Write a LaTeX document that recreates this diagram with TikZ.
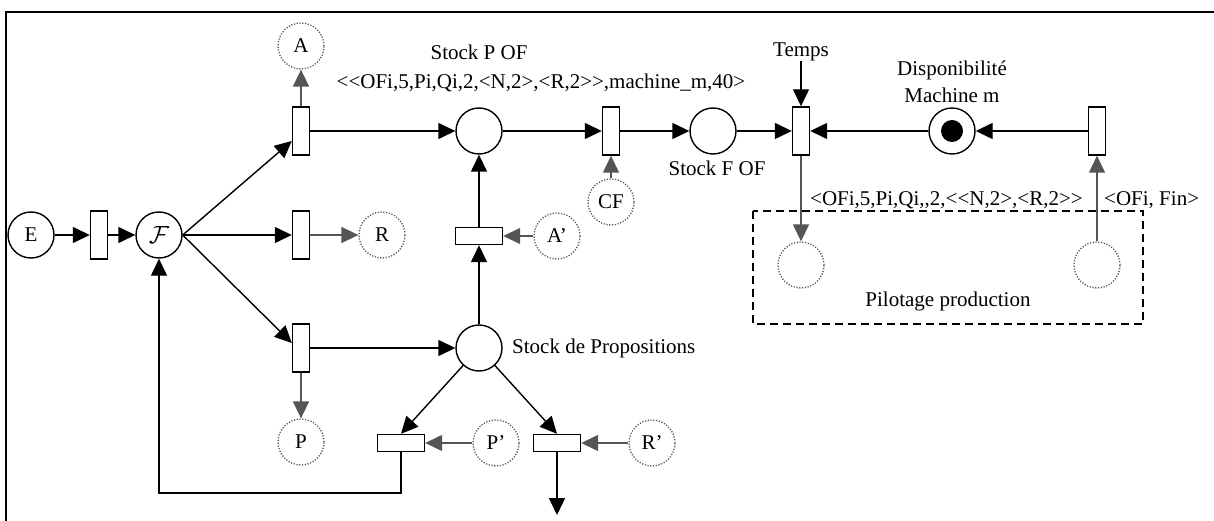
\documentclass[tikz,border=0pt]{standalone}
\usepackage{fontspec}
\setmainfont{Liberation Serif}[Ligatures=TeXOff]
\usetikzlibrary{arrows.meta}
\definecolor{gr}{HTML}{555555}
\definecolor{dotg}{HTML}{555555}
\begin{document}
\begin{tikzpicture}[x=1pt,y=-1pt, font=\fontsize{21}{24}\selectfont,
 place/.style={circle,draw,line width=1.4pt,minimum size=46pt,inner sep=0pt},
 ghost/.style={circle,draw=dotg,line width=1.3pt,dash pattern=on 1.2pt off 1.6pt,minimum size=46pt,inner sep=0pt},
 vtr/.style={rectangle,draw,line width=1.4pt,minimum width=17pt,minimum height=48pt,inner sep=0pt},
 htr/.style={rectangle,draw,line width=1.4pt,minimum width=47pt,minimum height=17pt,inner sep=0pt},
 arc/.style={line width=1.4pt,-{Triangle[length=17pt,width=16pt]}},
 garc/.style={gr,line width=1.4pt,-{Triangle[length=17pt,width=16pt]}},
 lbl/.style={inner sep=0pt}]
\useasboundingbox (0,0) rectangle (1214,521);
\draw[line width=1.4pt] (6,521) -- (6,12) -- (1214,12);
% places
\node[place] (E) at (31,235) {E};
\node[place,font=\fontsize{30}{32}\selectfont] (F) at (159,235) {$\mathcal{F}$};
\node[place] (SPOF) at (479,131) {};
\node[place] (SFOF) at (713,131) {};
\node[place] (DM) at (952,131) {};
\fill (DM) circle (11pt);
\node[place] (SDP) at (479,348) {};
% ghost places
\node[ghost] (A) at (301,46) {A};
\node[ghost] (R) at (382,235) {R};
\node[ghost] (P) at (301,442) {P};
\node[ghost] (CF) at (611,202) {CF};
\node[ghost] (Ap) at (557,236) {A’};
\node[ghost] (Pp) at (496,443) {P’};
\node[ghost] (Rp) at (652,443) {R’};
\node[ghost] (G1) at (801,265) {};
\node[ghost] (G2) at (1097,265) {};
% transitions
\node[vtr] (T1) at (99,235) {};
\node[vtr] (TA) at (301,131) {};
\node[vtr] (TR) at (301,235) {};
\node[vtr] (TP) at (301,348) {};
\node[vtr] (TCF) at (611,131) {};
\node[vtr] (TT) at (801,131) {};
\node[vtr] (TF) at (1097,131) {};
\node[htr] (TAp) at (479,236) {};
\node[htr] (TPp) at (401,443) {};
\node[htr] (TRp) at (557,443) {};
% labels
\node[lbl] at (479,52) {Stock P OF};
\node[lbl] at (541,83) {<<OFi,5,Pi,Qi,2,<N,2>,<R,2>>,machine\_m,40>};
\node[lbl] at (717,168) {Stock F OF};
\node[lbl] (temps) at (801,52) {Temps};
\node[lbl] at (952,70) {Disponibilité};
\node[lbl] at (952,95) {Machine m};
\node[lbl,anchor=west] at (512,348) {Stock de Propositions};
\node[lbl,anchor=west] at (810,200) {<OFi,5,Pi,Qi,,2,<<N,2>,<R,2>>};
\node[lbl,anchor=west] at (1104,200) {<OFi, Fin>};
\node[lbl] at (948,301) {Pilotage production};
\draw[line width=2pt,dash pattern=on 8pt off 5pt] (753,211) rectangle (1143,324);
% black arcs
\draw[arc] (E) -- (T1);
\draw[arc] (T1) -- (F);
\draw[arc] (F.east) -- ([yshift=-10pt]TA.west);
\draw[arc] (F.east) -- (TR.west);
\draw[arc] (F.east) -- ([yshift=5pt]TP.west);
\draw[arc] (TA) -- (SPOF);
\draw[arc] (SPOF) -- (TCF);
\draw[arc] (TCF) -- (SFOF);
\draw[arc] (SFOF) -- (TT);
\draw[arc] (DM) -- (TT);
\draw[arc] (TF) -- (DM);
\draw[arc] (temps.south) -- (TT.north);
\draw[arc] (TP) -- (SDP);
\draw[arc] (SDP) -- (TAp);
\draw[arc] (TAp) -- (SPOF);
\draw[arc] (SDP) -- (TPp.north);
\draw[arc] (SDP) -- (TRp.north);
\coordinate (fb) at (401,493);
\draw[arc] (TPp.south) -- (fb) -| (F.south);
\coordinate (out) at (557,515);
\draw[arc] (TRp.south) -- (out);
% grey arcs
\draw[garc] (TA) -- (A);
\draw[garc] (TR) -- (R);
\draw[garc] (TP) -- (P);
\draw[garc] (CF) -- (TCF);
\draw[garc] (Ap) -- (TAp);
\draw[garc] (Pp) -- (TPp);
\draw[garc] (Rp) -- (TRp);
\draw[garc] (TT) -- (G1);
\draw[garc] (G2) -- (TF);
\end{tikzpicture}
\end{document}
